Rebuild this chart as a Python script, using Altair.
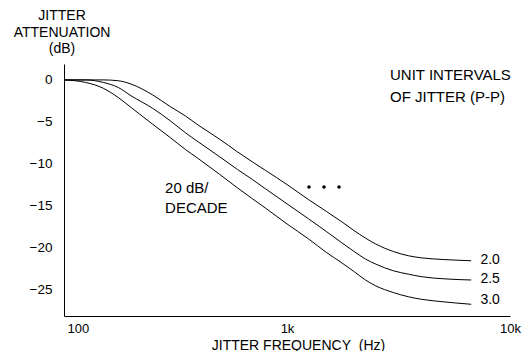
import altair as alt
import pandas as pd

freq = [100, 125, 150, 175, 200, 250, 300, 350, 400, 500, 600, 700, 800,
        1000, 1250, 1500, 1750, 2000, 2250, 2500, 3000, 3500, 4000, 5000, 6700]

# Jitter attenuation (dB) for each unit-interval curve
ui_2_0 = [0, 0, 0, -0.1, -0.5, -1.8, -3.2, -4.3, -5.4, -7.1, -8.6, -9.8, -10.8,
          -12.5, -14.3, -15.7, -16.9, -18.0, -18.9, -19.6, -20.5, -21.0, -21.25, -21.45, -21.6]
ui_2_5 = [0, 0, -0.3, -0.9, -1.9, -3.4, -4.9, -6.3, -7.4, -9.2, -10.7, -11.9, -13.0,
          -14.8, -16.6, -18.1, -19.4, -20.5, -21.4, -22.0, -22.8, -23.2, -23.5, -23.75, -23.9]
ui_3_0 = [0, -0.3, -1.0, -2.1, -3.3, -5.3, -6.9, -8.3, -9.4, -11.3, -12.9, -14.2, -15.3,
          -17.2, -19.0, -20.6, -21.8, -22.9, -23.9, -24.6, -25.4, -25.9, -26.2, -26.5, -26.8]

series_names = ["2.0", "2.5", "3.0"]
series_values = [ui_2_0, ui_2_5, ui_3_0]

# Curve labels (right-hand end)
label_text = ["2.0", "2.5", "3.0"]
label_freq = [7366, 7366, 7366]
label_db = [-21.5, -23.8, -26.3]

# Annotations inside the plot
note_text = ["UNIT INTERVALS", "OF JITTER (P-P)", "20 dB/", "DECADE"]
note_freq = [2897, 2897, 284, 284]
note_db = [0, -2.63, -13.5, -15.9]

# Y-axis title lines (placed above the axis)
ytitle_text = ["JITTER", "ATTENUATION", "(dB)"]
ytitle_freq = [98, 98, 98]
ytitle_db = [7.1, 5.1, 3.2]

# Ellipsis dots
dot_freq = [1255, 1465, 1711]
dot_db = [-12.8, -12.8, -12.8]

x_ticks = [100, 1000, 10000]
y_ticks = [0, -5, -10, -15, -20, -25]

FONT = "Liberation Sans"

rows = []
for name, vals in zip(series_names, series_values):
    for f, v in zip(freq, vals):
        rows.append({"f": f, "db": v, "ui": name})
curves_df = pd.DataFrame(rows)
labels_df = pd.DataFrame({"f": label_freq, "db": label_db, "t": label_text})
notes_df = pd.DataFrame({"f": note_freq, "db": note_db, "t": note_text})
ytitle_df = pd.DataFrame({"f": ytitle_freq, "db": ytitle_db, "t": ytitle_text})
dots_df = pd.DataFrame({"f": dot_freq, "db": dot_db})

xscale = alt.Scale(type="log", domain=[100, 10000], nice=False)
yscale = alt.Scale(domain=[-28.2, 1.9], nice=False, zero=False)

xaxis = alt.Axis(
    values=x_ticks,
    labelExpr="datum.value >= 10000 ? '10k' : (datum.value >= 1000 ? '1k' : '100')",
    ticks=False, grid=False, domainColor="black", domainWidth=1,
    labelFont=FONT, labelFontSize=13, labelColor="black", labelPadding=6,
    labelAlign={"condition": {"test": "datum.value <= 100", "value": "left"}, "value": "center"},
    labelOffset={"condition": {"test": "datum.value <= 100", "value": 3}, "value": 0},
    title="JITTER FREQUENCY\u00a0 (Hz)", titleFont=FONT, titleFontSize=14,
    titleFontWeight="normal", titleColor="black", titleAlign="center",
    titleBaseline="alphabetic", titleX=234, titleY=33,
)
yaxis = alt.Axis(
    values=y_ticks, ticks=False, grid=False, domainColor="black", domainWidth=1,
    labelFont=FONT, labelFontSize=13.5, labelColor="black", labelPadding=12,
    title="",
)

curves = alt.Chart(curves_df).mark_line(
    color="black", strokeWidth=1, interpolate="monotone"
).encode(
    x=alt.X("f:Q", scale=xscale, axis=xaxis),
    y=alt.Y("db:Q", scale=yscale, axis=yaxis),
    detail="ui:N",
)

labels = alt.Chart(labels_df).mark_text(
    align="left", baseline="middle", font=FONT, fontSize=14, color="black"
).encode(x=alt.X("f:Q", scale=xscale), y=alt.Y("db:Q", scale=yscale), text="t:N")

notes = alt.Chart(notes_df).mark_text(
    align="left", baseline="alphabetic", font=FONT, fontSize=15, color="black"
).encode(x=alt.X("f:Q", scale=xscale), y=alt.Y("db:Q", scale=yscale), text="t:N")

ytitle = alt.Chart(ytitle_df).mark_text(
    align="center", baseline="alphabetic", font=FONT, fontSize=14, color="black"
).encode(x=alt.X("f:Q", scale=xscale), y=alt.Y("db:Q", scale=yscale), text="t:N")

dots = alt.Chart(dots_df).mark_circle(color="black", size=13, opacity=1).encode(
    x=alt.X("f:Q", scale=xscale), y=alt.Y("db:Q", scale=yscale)
)

chart = alt.layer(curves, labels, notes, ytitle, dots).properties(
    width=446, height=252,
    autosize=alt.AutoSizeParams(type="none"),
    padding={"left": 56, "top": 56, "right": 13, "bottom": 35},
    background="white",
).configure_view(strokeWidth=0)

chart.save("out.html", embed_options={"renderer": "svg", "actions": False})
